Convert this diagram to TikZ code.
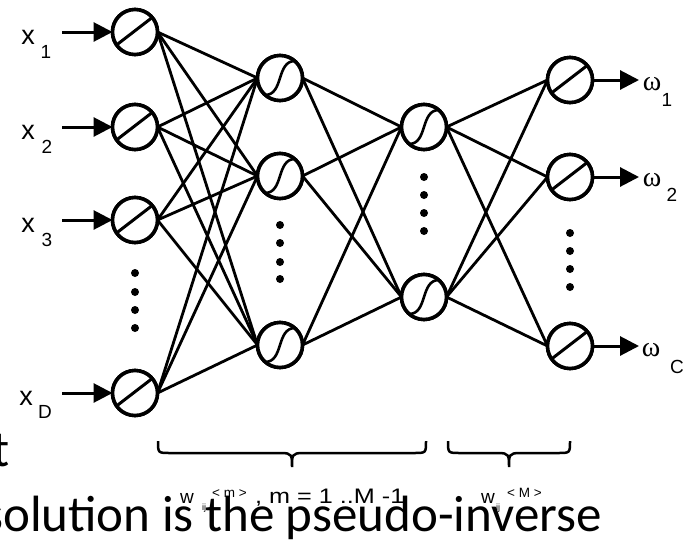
\documentclass[tikz,border=0pt]{standalone}
\usepackage{fontspec}
\setmainfont{Liberation Sans}
\newfontfamily\calfont{Carlito}
\newfontfamily\serfont{Liberation Serif}
\usetikzlibrary{arrows.meta}
\begin{document}
\begin{tikzpicture}[x=1pt,y=-1pt,
  neuron/.style={circle, draw, line width=3.6pt, minimum size=45pt, inner sep=0pt, outer sep=0pt, fill=white},
  lin/.style={neuron, path picture={\draw[line width=3pt] (path picture bounding box.center) ++(-18.4pt,-12.9pt) -- ++(35.6pt,27.4pt);}},
  sig/.style={neuron, path picture={\draw[line width=2.6pt] (path picture bounding box.center) ++(-15pt,-17pt) .. controls +(19pt,0pt) and +(-19pt,0pt) .. ++(30pt,34pt);}},
  wire/.style={line width=2.8pt},
  arr/.style={line width=3pt, -{Triangle[length=19pt,width=19pt]}},
  dotmark/.style={circle, fill, inner sep=0pt, minimum size=8pt},
  xlab/.style={inner sep=0pt, font=\fontsize{27}{32}\selectfont},
  sublab/.style={inner sep=0pt, font=\fontsize{19}{23}\selectfont},
  wlab/.style={inner sep=0pt, font=\serfont\fontsize{28}{32}\selectfont},
  bracestyle/.style={line width=2.5pt},
  big/.style={inner sep=0pt, font=\calfont\fontsize{51}{60}\selectfont},
  wtxt/.style={inner sep=0pt, anchor=base west, font=\fontsize{19}{22}\selectfont},
  ijtxt/.style={inner sep=0pt, anchor=base west, font=\fontsize{9}{11}\selectfont},
  suptxt/.style={inner sep=0pt, anchor=base west, font=\fontsize{13.5}{16}\selectfont},
  rngtxt/.style={inner sep=0pt, anchor=base west, font=\fontsize{21}{25}\selectfont}
]
\useasboundingbox (0,0) rectangle (692,541);

% slide text behind the diagram
\node[big, anchor=base west] (tt) at (-8,466) {t};
\node[big, anchor=base west] (sol) at (-17,531) {solution is the pseudo-inverse};

% neurons
\node[lin] (a1) at (135,32) {};
\node[lin] (a2) at (135,127) {};
\node[lin] (a3) at (135,220) {};
\node[lin] (a4) at (135,393) {};
\node[sig] (b1) at (280,78) {};
\node[sig] (b2) at (280,176) {};
\node[sig] (b3) at (280,345) {};
\node[sig] (c1) at (424,127) {};
\node[sig] (c2) at (424,297) {};
\node[lin] (d1) at (570,80) {};
\node[lin] (d2) at (570,177) {};
\node[lin] (d3) at (570,346) {};

% connections
\foreach \i in {a1,a2,a3,a4}{\foreach \j in {b1,b2,b3}{\draw[wire] (\i.east) -- (\j.west);}}
\foreach \i in {b1,b2,b3}{\foreach \j in {c1,c2}{\draw[wire] (\i.east) -- (\j.west);}}
\foreach \i in {c1,c2}{\foreach \j in {d1,d2,d3}{\draw[wire] (\i.east) -- (\j.west);}}
% neurons again, on top of the wires
\foreach \n in {a1,a2,a3,a4,d1,d2,d3}{\node[lin] at (\n) {};}
\foreach \n in {b1,b2,b3,c1,c2}{\node[sig] at (\n) {};}

% dots
\foreach \y [count=\k] in {273,292,310,328}{\node[dotmark] (da\k) at (135,\y) {};}
\foreach \y [count=\k] in {225,243,262,279}{\node[dotmark] (db\k) at (280,\y) {};}
\foreach \y [count=\k] in {177,195,213,231}{\node[dotmark] (dc\k) at (424,\y) {};}
\foreach \y [count=\k] in {233,251,269,287}{\node[dotmark] (dd\k) at (570,\y) {};}

% inputs
\coordinate (i1) at (62,32);
\coordinate (i2) at (62,127);
\coordinate (i3) at (62,220);
\coordinate (i4) at (62,393);
\foreach \k in {1,2,3,4}{\draw[arr] (i\k) -- (a\k.west);}
\node[xlab] (x1) at (28,37.5) {x};
\node[sublab] (s1) at (46,52) {1};
\node[xlab] (x2) at (28,132.5) {x};
\node[sublab] (s2) at (47,147) {2};
\node[xlab] (x3) at (28,225.5) {x};
\node[sublab] (s3) at (47,240) {3};
\node[xlab] (x4) at (26,398.5) {x};
\node[sublab] (s4) at (45,412) {D};

% outputs
\coordinate (o1) at (639,80);
\coordinate (o2) at (639,177);
\coordinate (o3) at (639,346);
\foreach \k in {1,2,3}{\draw[arr] (d\k.east) -- (o\k);}
\node[wlab] (w1) at (652,84) {ω};
\node[sublab] (u1) at (667,100) {1};
\node[wlab] (w2) at (652,180) {ω};
\node[sublab] (u2) at (672,195) {2};
\node[wlab] (w3) at (651,350) {ω};
\node[sublab] (u3) at (677,367) {C};

% braces
\draw[bracestyle] (158,441) .. controls (158,453) and (158,453) .. (170,453) -- (281,453) .. controls (292,453) and (292,455) .. (292,467) .. controls (292,455) and (292,453) .. (303,453) -- (414,453) .. controls (426,453) and (426,453) .. (426,441);
\draw[bracestyle] (448,441) .. controls (448,453) and (448,453) .. (460,453) -- (498,453) .. controls (509,453) and (509,455) .. (509,467) .. controls (509,455) and (509,453) .. (520,453) -- (558,453) .. controls (570,453) and (570,453) .. (570,441);

% weight labels
\node[wtxt] (wa) at (180,503) {w};
\node[ijtxt] (ija) at (202,510) {ij};
\node[suptxt] (ma) at (212,497) {< m >};
\node[rngtxt] (ra) at (255,503) {\scalebox{1.2}[1]{, m = 1 ..M -1}};
\node[wtxt] (wb) at (481,503) {w};
\node[ijtxt] (ijb) at (496,510) {ij};
\node[suptxt] (mb) at (507,497) {< M >};
\end{tikzpicture}
\end{document}
